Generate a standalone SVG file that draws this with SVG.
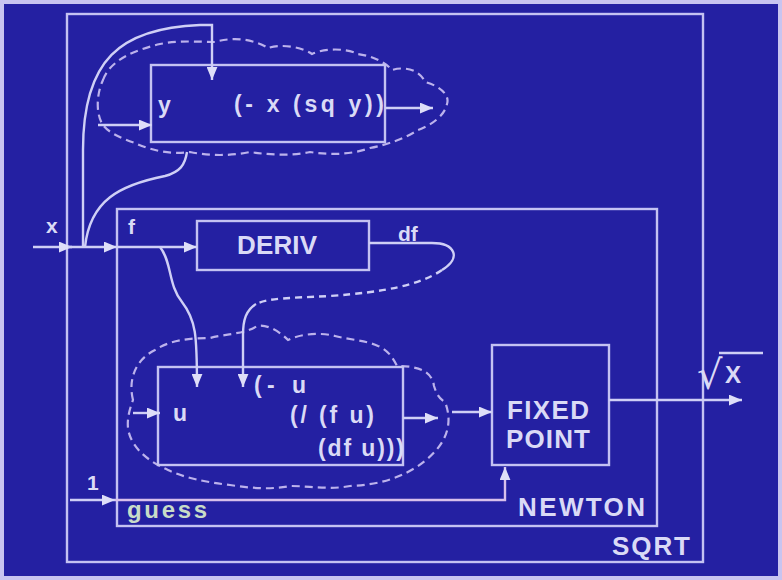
<svg xmlns="http://www.w3.org/2000/svg" width="782" height="580" viewBox="0 0 782 580">
<style>
.bg{fill:#2420a2}
.frame{fill:none;stroke:#c8c4f0;stroke-width:4}
.box{fill:none;stroke:#c4c2f2;stroke-width:2.4}
.cloud{fill:none;stroke:#bcb2ec;stroke-width:2.2;stroke-dasharray:8 5}
.wire{fill:none;stroke:#cfcff6;stroke-width:2.4}
.dash{fill:none;stroke:#cfcff6;stroke-width:2.4;stroke-dasharray:7 5}
.arr{marker-end:url(#ah)}
text{font-family:"Liberation Sans",Arial,sans-serif;fill:#dadaf6;font-weight:bold}
.big{font-size:26px}
.code{font-size:23px}
.lbl{font-size:21px}
.guess{fill:#c8dcc8;font-size:24px}
</style>
<defs>
<marker id="ah" viewBox="0 0 12 10" refX="12" refY="5" markerWidth="13" markerHeight="11" markerUnits="userSpaceOnUse" orient="auto">
<path d="M0,0 L12,5 L0,10 z" fill="#dedef8"/>
</marker>
</defs>
<rect class="bg" x="0" y="0" width="782" height="580"/>
<rect class="frame" x="2" y="2" width="778" height="576"/>

<g id="sqrt-box">
<rect class="box" x="67" y="14" width="636" height="548"/>
<text class="big" x="612" y="555" textLength="78">SQRT</text>
</g>

<g id="newton-box">
<rect class="box" x="117" y="209" width="540" height="317"/>
<text class="big" x="518" y="516" textLength="127">NEWTON</text>
</g>

<g id="lambda-y">
<path class="cloud" d="M103,80 C110,60 135,50 160,44 C180,40 200,42 215,42 C235,36 255,40 268,48 C280,44 300,46 312,54 C325,48 345,48 358,54 C372,56 385,62 392,70 C405,66 420,70 425,82 C440,86 450,95 447,104 C445,115 432,125 418,130 C405,138 390,144 370,148 C350,155 330,155 310,152 C290,156 270,155 250,152 C230,156 210,156 190,152 C170,155 150,150 135,143 C120,138 108,132 103,125 C96,115 96,95 103,80 Z"/>
<rect class="box" x="151" y="65" width="234" height="77"/>
<text class="code" x="158" y="113">y</text>
<text class="code" x="234" y="112" textLength="150" lengthAdjust="spacing">(- x (sq y))</text>
</g>

<g id="deriv">
<rect class="box" x="197" y="221" width="172" height="49"/>
<text class="big" x="277" y="254" text-anchor="middle" textLength="80">DERIV</text>
</g>

<g id="lambda-u">
<path class="cloud" d="M133,400 C128,380 135,360 155,350 C170,340 190,338 210,338 C225,334 245,334 257,326 C268,324 280,332 288,340 C300,334 320,332 335,336 C350,340 365,340 378,346 C388,350 393,358 397,366 C420,366 432,372 434,386 C436,392 438,398 445,402 C456,430 440,452 415,468 C395,480 375,485 350,486 C330,490 310,486 290,486 C270,490 250,488 230,485 C205,482 185,478 168,470 C145,460 130,445 128,428 C127,418 130,408 133,400 Z"/>
<rect class="box" x="158" y="367" width="245" height="98"/>
<text class="code" x="173" y="421">u</text>
<text class="code" x="254" y="393" textLength="52" lengthAdjust="spacing">(- u</text>
<text class="code" x="290" y="423" textLength="84" lengthAdjust="spacing">(/ (f u)</text>
<text class="code" x="318" y="456" textLength="86" lengthAdjust="spacing">(df u)))</text>
</g>

<g id="fixed-point">
<rect class="box" x="492" y="345" width="117" height="120"/>
<text class="big" x="548" y="419" text-anchor="middle" textLength="82">FIXED</text>
<text class="big" x="548" y="448" text-anchor="middle" textLength="84">POINT</text>
</g>

<g id="labels">
<text class="lbl" x="46" y="233">x</text>
<text class="lbl" x="128" y="234">f</text>
<text class="lbl" x="398" y="241">df</text>
<text class="lbl" x="87" y="490">1</text>
<text class="guess" x="127" y="518" textLength="80" lengthAdjust="spacing">guess</text>
<text x="697" y="389" style="font-size:40px;font-weight:normal;font-family:'DejaVu Sans',sans-serif">√</text>
<line class="wire" x1="719" y1="353" x2="763" y2="353"/>
<text x="725" y="383" style="font-size:24px">X</text>
</g>

<g id="connectors">
<path class="wire arr" d="M33,247 L72,247"/>
<path class="wire arr" d="M68,247 L117,247"/>
<path class="wire arr" d="M83,247 L83,150 C83,60 120,28 200,25 L212,25 L212,80"/>
<path class="wire" d="M187,152 C185,165 180,172 165,176 C120,185 90,200 85,247"/>
<path class="wire arr" d="M98,125 L152,125"/>
<path class="wire arr" d="M385,108 L433,108"/>
<path class="wire arr" d="M117,247 L197,247"/>
<path class="wire arr" d="M160,247 C172,262 168,285 182,302 C196,320 197,335 197,387"/>
<path class="wire" d="M369,243 L432,243 C455,243 462,258 442,270"/>
<path class="dash" d="M442,270 C420,285 385,292 330,296 C290,298 268,298 256,304"/>
<path class="wire arr" d="M256,304 C246,310 243,320 243,335 L243,387"/>
<path class="wire arr" d="M133,413 L160,413"/>
<path class="wire arr" d="M403,418 L438,418"/>
<path class="wire arr" d="M452,412 L492,412"/>
<path class="wire arr" d="M609,400 L742,400"/>
<path class="wire arr" d="M70,500 L115,500"/>
<path class="wire arr" d="M115,500 L505,500 L505,467" style="stroke:#d8c0ec"/>
</g>
</svg>
